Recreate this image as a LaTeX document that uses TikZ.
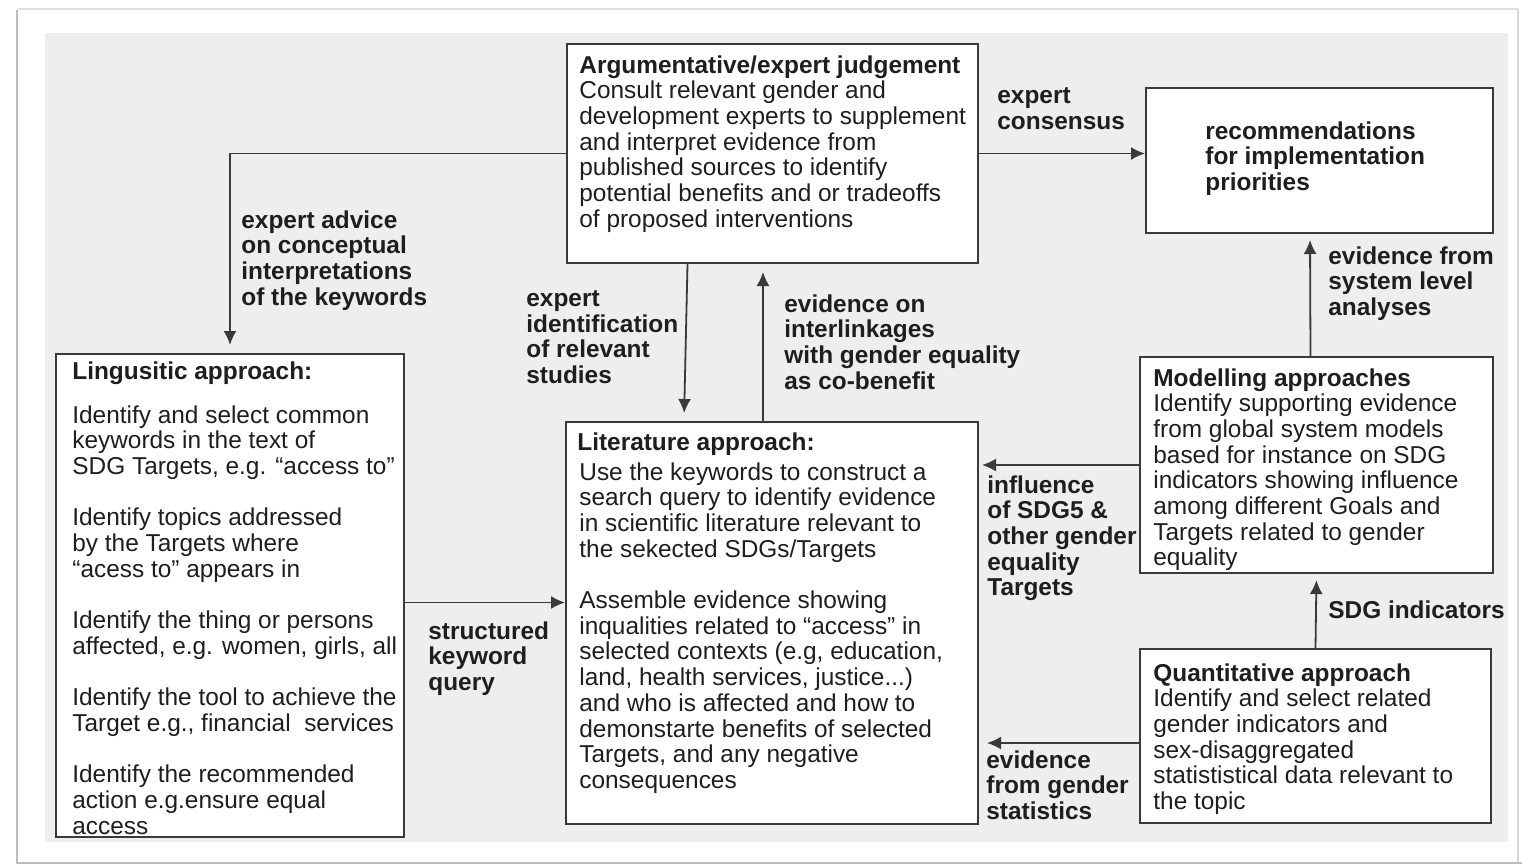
\documentclass[tikz,border=0pt]{standalone}
\usepackage{fontspec}
\setmainfont{Liberation Sans}
\usetikzlibrary{arrows.meta,calc}
\definecolor{bgpanel}{HTML}{EEEEEE}
\definecolor{bordercol}{HTML}{3A3A3A}
\definecolor{txtcol}{HTML}{1E1E1E}
\definecolor{framecol}{HTML}{BDBDBD}
\begin{document}
\begin{tikzpicture}[x=0.5pt,y=-0.5pt,
  font=\fontsize{12.2}{12.85}\selectfont,
  boxnode/.style={draw=bordercol,line width=1pt,fill=white,inner sep=0pt,anchor=north west},
  txt/.style={anchor=north west,inner sep=0pt,align=left,text=txtcol,yshift=1pt},
  lbl/.style={txt,font=\fontsize{12.2}{12.85}\selectfont\bfseries},
  arr/.style={draw=bordercol,line width=0.9pt,-{Latex[length=7pt,width=6.5pt]}}]
\useasboundingbox (0,0) rectangle (1522,864);
\fill[white] (0,0) rectangle (1522,864);
% page frame
\draw[framecol!50,line width=1pt] (18,9) -- (1518,9);
\draw[framecol!60,line width=1pt] (1518,9) -- (1518,862);
\draw[framecol,line width=1.2pt] (17,10) -- (17,863) -- (1522,863);
% panel
\fill[bgpanel] (45,33) rectangle (1508,842);

% boxes
\node[boxnode,minimum width=205.5pt,minimum height=109.5pt] (arg) at (566,43) {};
\node[boxnode,minimum width=173.5pt,minimum height=72.5pt] (rec) at (1145,87) {};
\node[boxnode,minimum width=174pt,minimum height=241.5pt] (ling) at (55,353) {};
\node[boxnode,minimum width=206pt,minimum height=201pt] (lit) at (565,421) {};
\node[boxnode,minimum width=176.5pt,minimum height=108pt] (mod) at (1139,356) {};
\node[boxnode,minimum width=175.5pt,minimum height=87pt] (quant) at (1139,648) {};

% box texts
\node[txt] (argt) at (579,57) {\textbf{Argumentative/expert judgement}\\Consult relevant gender and\\development experts to supplement\\and interpret evidence from\\published sources to identify\\potential benefits and or tradeoffs\\of proposed interventions};
\node[lbl] (rect) at (1205,123) {recommendations\\for implementation\\priorities};
\node[lbl] (lingh) at (72,363) {Lingusitic approach:};
\node[txt] (lingt) at (72,407) {Identify and select common\\keywords in the text of\\SDG Targets, e.g. “access to”\\[12.85pt]Identify topics addressed\\by the Targets where\\“acess to” appears in\\[12.85pt]Identify the thing or persons\\affected, e.g. women, girls, all\\[12.85pt]Identify the tool to achieve the\\Target e.g., financial\ \ services\\[12.85pt]Identify the recommended\\action e.g.ensure equal\\access};
\node[lbl] (lith) at (577,434) {Literature approach:};
\node[txt] (litt) at (579,464) {Use the keywords to construct a\\search query to identify evidence\\in scientific literature relevant to\\the sekected SDGs/Targets\\[12.85pt]Assemble evidence showing\\inqualities related to “access” in\\selected contexts (e.g, education,\\land, health services, justice...)\\and who is affected and how to\\demonstarte benefits of selected\\Targets, and any negative\\consequences};
\node[txt] (modt) at (1153,370) {\textbf{Modelling approaches}\\Identify supporting evidence\\from global system models\\based for instance on SDG\\indicators showing influence\\among different Goals and\\Targets related to gender\\equality};
\node[txt] (quantt) at (1153,665) {\textbf{Quantitative approach}\\Identify and select related\\gender indicators and\\sex-disaggregated\\statististical data relevant to\\the topic};

% connectors
\coordinate (skq) at ($(ling.east)+(0,7)$);
\coordinate (gst) at ($(quant.west)+(0,7)$);
\draw[arr,shorten >=4pt] (arg.west) -| (ling.north);
\draw[arr] (arg.east) -- (arg.east -| rec.west);
\draw[arr,shorten >=4pt] ($(arg.south)+(-85,0)$) -- ($(lit.north)+(-88,0)$);
\draw[arr,shorten >=4pt] ($(lit.north)+(-9,0)$) -- ($(arg.south)+(-9.5,0)$);
\draw[arr] (skq) -- (skq -| lit.west);
\draw[arr,shorten >=1.5pt] (mod.west) -- (mod.west -| lit.east);
\draw[arr,shorten >=4pt] (gst) -- (gst -| lit.east);
\draw[arr,shorten >=3pt] (quant.north) -- (mod.south);
\draw[arr,shorten >=3pt] ($(mod.north)+(-6,0)$) -- ($(rec.south)+(-9.5,0)$);

% connector labels
\node[lbl] (l1) at (241,212) {expert advice\\on conceptual\\interpretations\\of the keywords};
\node[lbl] (l2) at (997,89) {expert\\consensus};
\node[lbl] (l3) at (526,292) {expert\\identification\\of relevant\\studies};
\node[lbl] (l4) at (784,296) {evidence on\\interlinkages\\with gender equality\\as co-benefit};
\node[lbl] (l5) at (428,623) {structured\\keyword\\query};
\node[lbl] (l6) at (987,477) {influence\\of SDG5 \&\\other gender\\equality\\Targets};
\node[lbl] (l7) at (986,752) {evidence\\from gender\\statistics};
\node[lbl] (l8) at (1328,602) {SDG indicators};
\node[lbl] (l9) at (1328,248) {evidence from\\system level\\analyses};
\end{tikzpicture}
\end{document}
